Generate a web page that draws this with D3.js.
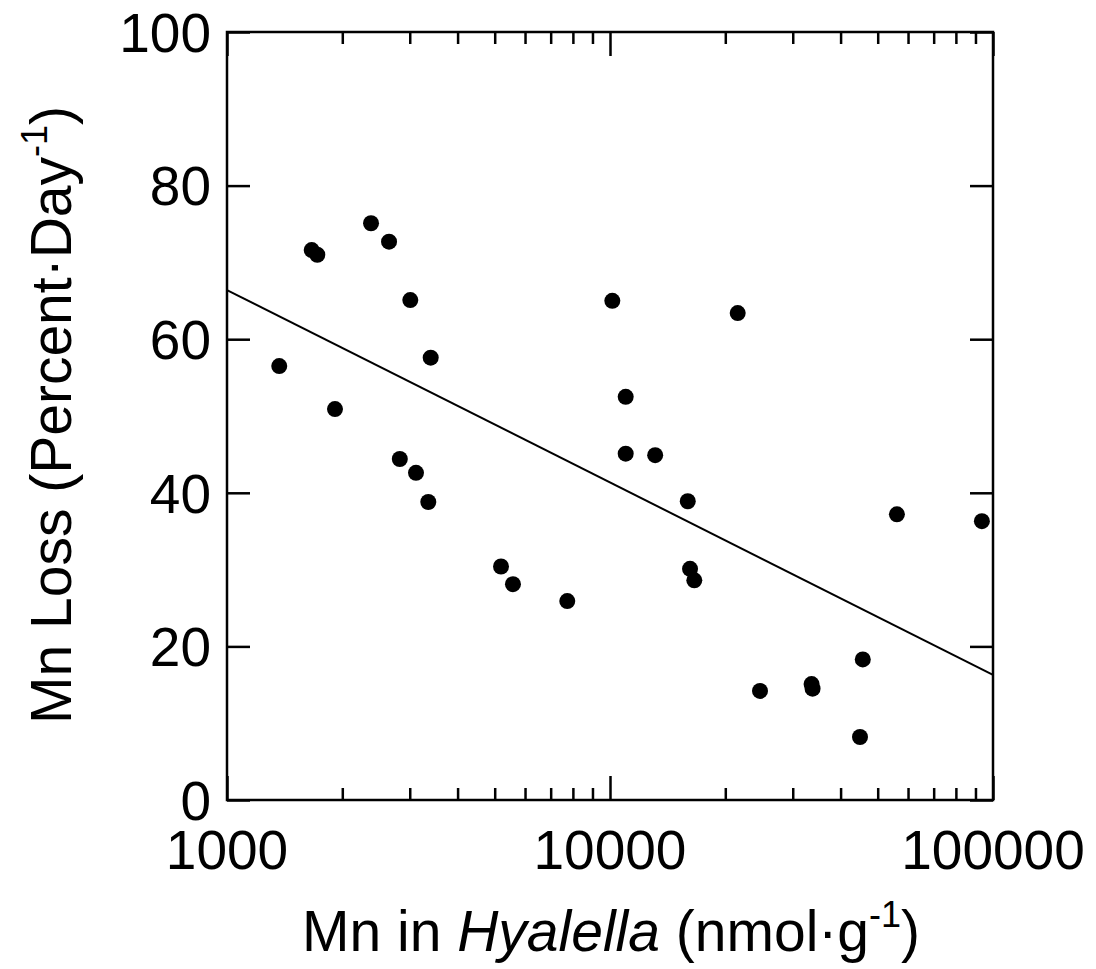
<!DOCTYPE html>
<html>
<head>
<meta charset="utf-8">
<script src="https://cdn.jsdelivr.net/npm/d3@7"></script>
<style>
  body { margin: 0; background: #fff; }
  text { font-family: "Liberation Sans", Arial, sans-serif; fill: #000; }
</style>
</head>
<body>
<div class="canva"></div>
<script>
// values
const mnHyalella = [1369, 1664, 1721, 1914, 2377, 2649, 2826, 3010, 3115, 3354, 3403,
    5193, 5580, 7735, 10140, 10990, 10990, 13120, 15960, 16180, 16600, 21550,
    24640, 33600, 33800, 44950, 45710, 56120, 93540];
const mnLoss = [56.5, 71.6, 71.0, 50.9, 75.1, 72.7, 44.4, 65.1, 42.6, 38.8, 57.6,
    30.4, 28.1, 25.9, 65.0, 52.5, 45.1, 44.9, 38.9, 30.1, 28.6, 63.4,
    14.2, 15.1, 14.5, 8.2, 18.3, 37.2, 36.3];

// regression line end points
const fitX = [1000, 100000];
const fitY = [66.4, 16.3];

const xTicks = [1000, 10000, 100000];
const yTicks = [0, 20, 40, 60, 80, 100];

const plotLeft = 227, plotRight = 993, plotTop = 32, plotBottom = 800;

const canvas = d3.select('.canva');
const svg = canvas.append('svg')
    .attr('width', 1096)
    .attr('height', 969);

const x = d3.scaleLog().domain([1000, 100000]).range([plotLeft, plotRight]);
const y = d3.scaleLinear().domain([0, 100]).range([plotBottom, plotTop]);

// minor log ticks (2..9 in each decade)
let minor = [];
x.ticks().forEach(t => { if (xTicks.indexOf(t) < 0) minor.push(t); });

const tickStroke = 2.5;

// bottom axis: inward ticks
const gb = svg.append('g').attr('transform', `translate(0,${plotBottom})`);
gb.call(d3.axisBottom(x).tickValues(xTicks).tickSize(-24).tickFormat(''));
gb.append('g').call(d3.axisBottom(x).tickValues(minor).tickSize(-12).tickFormat(''));

// top axis
const gt = svg.append('g').attr('transform', `translate(0,${plotTop})`);
gt.call(d3.axisTop(x).tickValues(xTicks).tickSize(-24).tickFormat(''));
gt.append('g').call(d3.axisTop(x).tickValues(minor).tickSize(-12).tickFormat(''));

// left and right axes
svg.append('g').attr('transform', `translate(${plotLeft},0)`)
    .call(d3.axisLeft(y).tickValues(yTicks).tickSize(-23).tickFormat(''));
svg.append('g').attr('transform', `translate(${plotRight},0)`)
    .call(d3.axisRight(y).tickValues(yTicks).tickSize(-23).tickFormat(''));

svg.selectAll('.domain').remove();
svg.selectAll('.tick line')
    .attr('stroke', '#000')
    .attr('stroke-width', tickStroke);

// frame
svg.append('rect')
    .attr('x', plotLeft).attr('y', plotTop)
    .attr('width', plotRight - plotLeft).attr('height', plotBottom - plotTop)
    .attr('fill', 'none')
    .attr('stroke', '#000')
    .attr('stroke-width', 2.5);

// tick labels
svg.selectAll('.xlab')
    .data(xTicks)
    .enter().append('text')
    .attr('x', d => x(d))
    .attr('y', 869)
    .attr('text-anchor', 'middle')
    .attr('font-size', 55)
    .text(d => d);

svg.selectAll('.ylab')
    .data(yTicks)
    .enter().append('text')
    .attr('x', 211)
    .attr('y', d => y(d))
    .attr('dy', '0.36em')
    .attr('text-anchor', 'end')
    .attr('font-size', 55)
    .text(d => d);

// regression line
const line = d3.line()
    .x(d => x(d[0]))
    .y(d => y(d[1]));
svg.append('path')
    .datum(fitX.map((v, i) => [v, fitY[i]]))
    .attr('d', line)
    .attr('fill', 'none')
    .attr('stroke', '#000')
    .attr('stroke-width', 2);

// points
svg.selectAll('circle')
    .data(mnHyalella)
    .enter().append('circle')
    .attr('cx', d => x(d))
    .attr('cy', (d, i) => y(mnLoss[i]))
    .attr('r', 8)
    .attr('fill', '#000');

// x title
const xt = svg.append('text')
    .attr('x', 611)
    .attr('y', 951)
    .attr('text-anchor', 'middle')
    .attr('font-size', 57);
xt.append('tspan').text('Mn in ');
xt.append('tspan').attr('font-style', 'italic').text('Hyalella');
xt.append('tspan').text(' (nmol\u00b7g');
xt.append('tspan').attr('font-size', 36).attr('dy', -24).text('-1');
xt.append('tspan').attr('dy', 24).text(')');

// y title
const yt = svg.append('text')
    .attr('transform', 'translate(71,415) rotate(-90)')
    .attr('text-anchor', 'middle')
    .attr('font-size', 57);
yt.append('tspan').text('Mn Loss (Percent\u00b7Day');
yt.append('tspan').attr('font-size', 36).attr('dy', -24).text('-1');
yt.append('tspan').attr('dy', 24).text(')');
</script>
</body>
</html>
